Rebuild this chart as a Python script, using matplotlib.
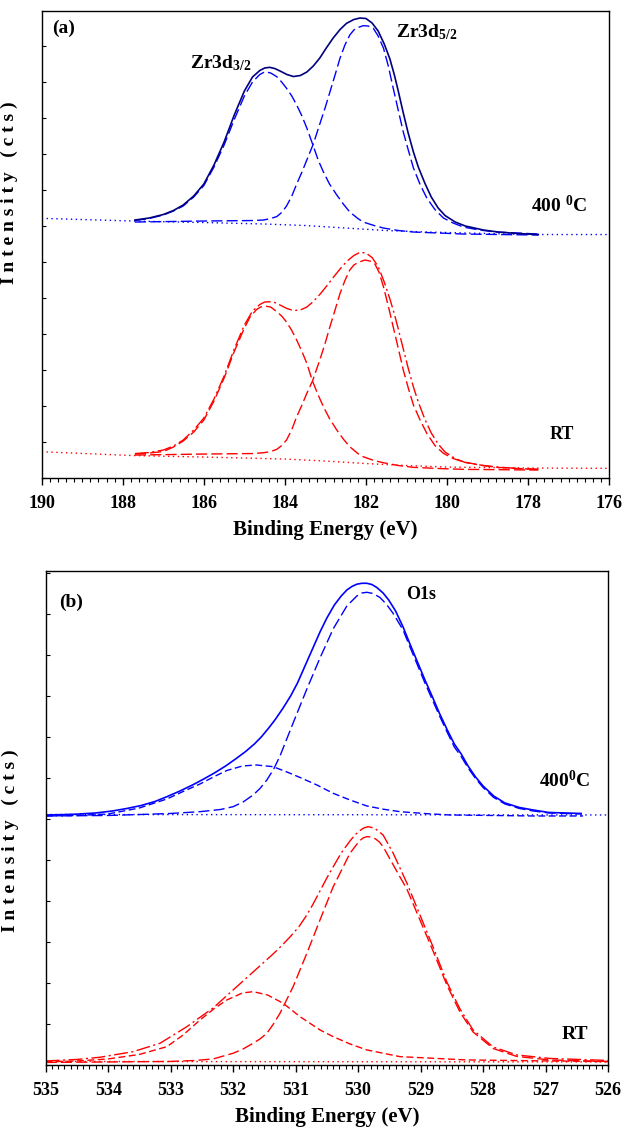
import matplotlib
matplotlib.use("Agg")
import matplotlib.pyplot as plt
from matplotlib.ticker import MultipleLocator

plt.rcParams['font.family'] = ['Liberation Serif', 'DejaVu Serif']
plt.rcParams['font.weight'] = 'bold'
plt.rcParams['mathtext.fontset'] = 'custom'
plt.rcParams['mathtext.rm'] = 'Liberation Serif:bold'
plt.rcParams['mathtext.it'] = 'Liberation Serif:bold'
plt.rcParams['mathtext.bf'] = 'Liberation Serif:bold'

# ---------------- (a) Zr3d, 400 C ----------------
a400_env_E = [187.70, 187.35, 187.00, 186.75, 186.51, 186.25, 186.00, 185.75, 185.50, 185.25,
              185.00, 184.80, 184.62, 184.50, 184.38, 184.25, 184.12, 183.95, 183.79, 183.62,
              183.46, 183.30, 183.14, 182.98, 182.81, 182.64, 182.48, 182.30, 182.15, 182.00,
              181.85, 181.70, 181.55, 181.41, 181.30, 181.21, 181.08, 180.96, 180.83, 180.71,
              180.55, 180.39, 180.22, 180.05, 179.80, 179.55, 179.10, 178.74, 178.25, 177.75]
a400_env_I = [258, 260, 263.5, 267.5, 273, 282, 294, 313, 336, 363,
              387, 401, 407.5, 410, 410.7, 409.5, 407, 403.5, 401.5, 402.5,
              406, 412, 420, 430, 440, 448.5, 454.7, 458.5, 460, 459.5,
              455, 447, 434, 419, 403, 388, 365, 345, 326, 311,
              295, 281, 270, 262.5, 256, 252, 248, 246, 244.5, 243.5]

a400_p1_E = [187.70, 187.35, 187.00, 186.75, 186.51, 186.25, 186.00, 185.75, 185.50, 185.25,
             185.00, 184.80, 184.62, 184.49, 184.35, 184.20, 184.08, 183.96, 183.83, 183.71,
             183.58, 183.46, 183.30, 183.18, 183.05, 182.90, 182.72, 182.55, 182.40, 182.20,
             182.07, 181.80, 181.57, 181.20, 180.83, 180.20, 179.60, 177.75]
a400_p1_I = [257.5, 259.5, 263, 267, 272, 281, 292.5, 311, 333, 358.5,
             382, 396, 403.5, 406.3, 405, 401.3, 396, 389.7, 382, 373,
             362, 350, 332, 318, 306, 294, 283, 273.5, 266, 259.5,
             256, 252.5, 250, 247.5, 246, 245, 244, 243]

a400_p2_E = [187.70, 186.00, 184.80, 184.53, 184.35, 184.20, 184.08, 183.96, 183.83, 183.71,
             183.58, 183.46, 183.30, 183.14, 183.01, 182.89, 182.76, 182.64, 182.52, 182.40,
             182.30, 182.20, 182.07, 181.95, 181.82, 181.70, 181.57, 181.45, 181.33, 181.20,
             181.08, 180.95, 180.83, 180.66, 180.50, 180.30, 180.09, 179.85, 179.60, 179.20,
             178.78, 178.25, 177.75]
a400_p2_I = [256, 257, 257.5, 258, 259.5, 261.5, 265.5, 272, 282, 294,
             306, 318, 334, 354, 370, 386, 403.5, 420, 433, 443,
             448, 450.5, 452.3, 452, 449.7, 442, 430, 412, 390, 367,
             346, 327, 310, 293, 280, 268.5, 260, 255, 251, 248,
             246, 245, 244]

a400_bg_E = [190, 187.75, 186, 184.5, 183.5, 182.5, 181.5, 180.5, 179, 177.75, 176]
a400_bg_I = [259.7, 257, 255.5, 254, 252.5, 250, 247.5, 246, 244.5, 243.5, 243.5]

# ---------------- (a) Zr3d, RT ----------------
aRT_env_E = [187.70, 187.35, 187.00, 186.75, 186.51, 186.25, 186.00, 185.75, 185.50, 185.25,
             185.00, 184.80, 184.62, 184.50, 184.38, 184.25, 184.12, 183.95, 183.79, 183.62,
             183.46, 183.30, 183.14, 182.98, 182.81, 182.64, 182.48, 182.30, 182.15, 182.00,
             181.85, 181.70, 181.55, 181.41, 181.30, 181.21, 181.08, 180.96, 180.83, 180.71,
             180.55, 180.39, 180.22, 180.05, 179.80, 179.55, 179.10, 178.74, 178.25, 177.75]
aRT_env_I = [24.5, 25.5, 28, 32, 38, 48, 60, 79, 102, 129,
             153, 167, 173.5, 176, 176.3, 175.5, 173, 169.5, 167.5, 168,
             171, 176.5, 183.5, 191.5, 200.5, 209, 216.5, 222.5, 225.7, 225,
             220.5, 211.5, 196, 179, 164, 150, 129, 110, 91, 76,
             59, 45, 34, 26, 19.5, 15.5, 12.5, 11, 9.5, 8.7]

aRT_p1_E = [187.70, 187.35, 187.00, 186.75, 186.51, 186.25, 186.00, 185.75, 185.50, 185.25,
            185.00, 184.86, 184.70, 184.60, 184.49, 184.35, 184.20, 184.08, 183.96, 183.83,
            183.71, 183.58, 183.46, 183.32, 183.18, 183.05, 182.90, 182.72, 182.55, 182.40,
            182.20, 182.07, 181.80, 181.57, 181.20, 180.83, 180.20, 179.60, 177.75]
aRT_p1_I = [24, 25, 26.5, 31, 37, 46, 58, 77, 100, 126.5,
            150, 161, 168.5, 171, 172, 171, 166.3, 162, 156, 147.5,
            138, 126.5, 114.7, 97, 83, 71.3, 59.5, 48, 38.5, 31.3,
            24.5, 21.3, 17.5, 15.3, 12.5, 10.7, 9.5, 8.7, 8]

aRT_p2_E = [187.70, 186.00, 184.80, 184.53, 184.35, 184.20, 184.08, 183.96, 183.83, 183.71,
            183.58, 183.46, 183.32, 183.14, 183.01, 182.89, 182.76, 182.64, 182.52, 182.40,
            182.30, 182.20, 182.03, 181.90, 181.78, 181.68, 181.57, 181.45, 181.33, 181.20,
            181.08, 180.95, 180.83, 180.66, 180.50, 180.30, 180.09, 179.85, 179.60, 179.20,
            178.78, 178.25, 177.75]
aRT_p2_I = [23, 24, 24.5, 25.3, 26.5, 28.7, 32.5, 38, 48.5, 61.3,
            73, 84.7, 97, 118, 134.5, 151.3, 168.5, 184.7, 197.5, 208,
            213, 215.5, 218, 217, 214, 206, 191.3, 172, 151.3, 129,
            108, 89, 73, 57.5, 44.7, 32.5, 24.7, 19.5, 16.3, 13,
            10.7, 9.5, 8.7]

aRT_bg_E = [190, 187.75, 186, 184, 183, 182, 181, 180, 178, 176]
aRT_bg_I = [26.3, 22.5, 21, 19, 17, 14.5, 12.5, 11, 10, 9.7]

# ---------------- (b) O1s, 400 C ----------------
b400_env_E = [535.00, 534.75, 534.51, 534.20, 533.93, 533.70, 533.47, 533.25, 533.06, 532.85,
              532.65, 532.47, 532.30, 532.12, 531.95, 531.80, 531.66, 531.55, 531.43, 531.32,
              531.20, 531.08, 530.97, 530.85, 530.73, 530.61, 530.50, 530.38, 530.27, 530.18,
              530.10, 530.02, 529.94, 529.86, 529.78, 529.70, 529.60, 529.51, 529.40, 529.28,
              529.17, 529.05, 528.93, 528.81, 528.70, 528.58, 528.46, 528.35, 528.24, 528.12,
              528.00, 527.83, 527.65, 527.42, 527.20, 526.95, 526.43]
b400_env_I = [250, 250.3, 250.8, 252, 254, 256.5, 259.5, 263.5, 268.3, 274,
              280, 286, 292, 299, 306.5, 313.5, 321, 328, 337, 346,
              357, 369, 382, 399, 416, 433, 447, 460, 469, 475,
              478.5, 480.8, 481.7, 481.7, 480.5, 477.5, 472, 465, 454, 438,
              421, 403, 385, 368, 352, 336, 321, 311, 299, 288,
              279, 269, 262, 257.5, 255, 252.5, 251.5]

b400_main_E = [535.00, 534.00, 533.47, 533.00, 532.53, 532.20, 532.00, 531.84, 531.68, 531.57,
               531.46, 531.35, 531.25, 531.04, 530.82, 530.61, 530.40, 530.18, 530.02, 529.94,
               529.86, 529.76, 529.65, 529.55, 529.44, 529.28, 529.17, 529.05, 528.93, 528.81,
               528.70, 528.58, 528.46, 528.35, 528.24, 528.12, 528.00, 527.83, 527.65, 527.42,
               527.20, 526.95, 526.43]
b400_main_I = [249, 249.5, 250.5, 251.5, 253.3, 255.5, 258.3, 263, 270, 276.5,
               285, 296, 309, 342, 376, 407, 436, 459, 469, 472,
               472.7, 471.5, 467.5, 461, 451.7, 435, 418, 400, 382, 365,
               349.5, 333.5, 318, 308.5, 297, 286.5, 277.5, 267.5, 261, 256.5,
               254, 252, 251]

b400_small_E = [535.00, 534.50, 534.00, 533.50, 533.06, 532.80, 532.53, 532.30, 532.10, 531.85,
                531.63, 531.36, 531.10, 530.93, 530.66, 530.40, 530.13, 529.86, 529.60, 529.33,
                528.90, 528.53, 527.20, 526.40]
b400_small_I = [249, 249.5, 251, 257, 266, 273.5, 281, 288.5, 294.5, 299,
                300, 298.3, 292, 287.5, 280, 271.7, 265, 259, 255.8, 253.3,
                251.3, 250, 249, 249]

b400_bg_E = [535, 526]
b400_bg_I = [250.5, 250]

# ---------------- (b) O1s, RT ----------------
bRT_env_E = [535.00, 534.50, 534.13, 533.60, 533.17, 532.74, 532.32, 532.00, 531.68, 531.36,
             531.22, 531.09, 530.95, 530.82, 530.72, 530.61, 530.50, 530.40, 530.27, 530.13,
             530.05, 529.98, 529.91, 529.84, 529.78, 529.72, 529.60, 529.44, 529.22, 529.01,
             528.80, 528.58, 528.37, 528.16, 527.84, 527.46, 526.93, 526.00]
bRT_env_I = [4, 5.5, 7.7, 13.3, 21.7, 38.3, 57, 75, 93, 111,
             119.5, 128, 138, 150, 161, 174, 187, 198, 212, 224,
             230, 234, 237, 238.3, 237.5, 236, 230, 212, 182, 150,
             118, 83, 56, 35, 18, 10, 6.5, 4.5]

bRT_main_E = [535.00, 534.00, 533.00, 532.60, 532.32, 532.00, 531.84, 531.68, 531.57, 531.46,
              531.36, 531.25, 531.04, 530.82, 530.61, 530.40, 530.13, 529.98, 529.92, 529.86,
              529.79, 529.72, 529.66, 529.60, 529.33, 529.22, 529.01, 528.80, 528.58, 528.37,
              528.16, 527.84, 527.46, 526.93, 526.00]
bRT_main_I = [2.5, 3, 3.5, 4.5, 6, 11.7, 16, 21.7, 26, 31.7,
              40.5, 51.7, 78.3, 111.7, 145, 178, 211.7, 224, 227, 228.3,
              228, 226, 223, 218.3, 188, 176, 145, 114, 80, 53,
              33, 16.5, 8.5, 5, 3.5]

bRT_small_E = [535.00, 534.50, 534.00, 533.50, 533.06, 532.80, 532.53, 532.30, 532.10, 531.85,
               531.68, 531.45, 531.20, 530.93, 530.61, 530.40, 530.13, 529.86, 529.33, 528.26,
               526.00]
bRT_small_I = [3, 4, 6, 10.5, 18.3, 30, 45, 56.5, 65, 72,
               73.3, 70, 61.7, 48.3, 35, 28.3, 21, 15, 8.3, 5,
               3.3]

bRT_bg_E = [535, 526]
bRT_bg_I = [3.5, 3]

blue = '#0000ff'
navy = '#000080'
red = '#ff0000'
long_dash = (0, (8, 3))
short_dash = (0, (5, 2.5))
dash_dot = (0, (10, 2.5, 1.5, 2.5))
dots = (0, (1, 2.5))

fig = plt.figure(figsize=(6.22, 11.28), dpi=100)
ax1 = fig.add_axes([0.0670, 0.5762, 0.9125, 0.4143])
ax2 = fig.add_axes([0.0735, 0.0559, 0.9040, 0.4379])

# panel (a)
ax1.plot(a400_bg_E, a400_bg_I, color=blue, ls=dots, lw=1)
ax1.plot(a400_p1_E, a400_p1_I, color=blue, ls=long_dash, lw=1)
ax1.plot(a400_p2_E, a400_p2_I, color=blue, ls=long_dash, lw=1)
ax1.plot(a400_env_E, a400_env_I, color=navy, lw=1.2)
ax1.plot(aRT_bg_E, aRT_bg_I, color=red, ls=dots, lw=1)
ax1.plot(aRT_p1_E, aRT_p1_I, color=red, ls=long_dash, lw=1)
ax1.plot(aRT_p2_E, aRT_p2_I, color=red, ls=long_dash, lw=1)
ax1.plot(aRT_env_E, aRT_env_I, color=red, ls=dash_dot, lw=1)

# panel (b)
ax2.plot(b400_bg_E, b400_bg_I, color=blue, ls=dots, lw=1)
ax2.plot(b400_small_E, b400_small_I, color=blue, ls=short_dash, lw=1)
ax2.plot(b400_main_E, b400_main_I, color=blue, ls=long_dash, lw=1)
ax2.plot(b400_env_E, b400_env_I, color=blue, lw=1.2)
ax2.plot(bRT_bg_E, bRT_bg_I, color=red, ls=dots, lw=1)
ax2.plot(bRT_small_E, bRT_small_I, color=red, ls=short_dash, lw=1)
ax2.plot(bRT_main_E, bRT_main_I, color=red, ls=long_dash, lw=1)
ax2.plot(bRT_env_E, bRT_env_I, color=red, ls=dash_dot, lw=1)

ax1.set_xlim(190, 176)
ax1.set_ylim(0, 467.3)
ax2.set_xlim(535, 526)
ax2.set_ylim(0, 494)

for ax, major, minor, ystep in [(ax1, 2, 0.2, 36), (ax2, 1, 0.1, 41)]:
    ax.xaxis.set_major_locator(MultipleLocator(major))
    ax.xaxis.set_minor_locator(MultipleLocator(minor))
    ax.yaxis.set_major_locator(MultipleLocator(ystep))
    ax.tick_params(axis='x', which='major', direction='out', length=5, width=1,
                   labelsize=13, pad=7)
    ax.tick_params(axis='x', which='minor', direction='out', length=3, width=0.8)
    ax.tick_params(axis='y', which='major', direction='in', length=3, width=0.8,
                   labelleft=False)
    for s in ax.spines.values():
        s.set_linewidth(1.0)
    ax.set_xlabel('Binding Energy (eV)', fontsize=15, fontweight='bold', labelpad=6)
    ax.set_ylabel('I n t e n s i t y   ( c t s )', fontsize=14, fontweight='bold')

ax1.yaxis.set_label_coords(-0.041, 0.61)
ax2.yaxis.set_label_coords(-0.0475, 0.455)

# labels panel (a)
ax1.text(0.018, 0.963, '(a)', transform=ax1.transAxes, fontsize=14, va='center')
ax1.text(0.261, 0.877, r'Zr3d$_{3/2}$', transform=ax1.transAxes, fontsize=14, va='baseline')
ax1.text(0.625, 0.944, r'Zr3d$_{5/2}$', transform=ax1.transAxes, fontsize=14, va='baseline')
ax1.text(0.8615, 0.569, r'400 $^{0}$C', transform=ax1.transAxes, fontsize=14, va='baseline')
ax1.text(0.8955, 0.0835, 'RT', transform=ax1.transAxes, fontsize=13, va='baseline')

# labels panel (b)
ax2.text(0.024, 0.937, '(b)', transform=ax2.transAxes, fontsize=14, va='center')
ax2.text(0.641, 0.943, 'O1s', transform=ax2.transAxes, fontsize=13, va='baseline')
ax2.text(0.878, 0.563, r'400$^{0}$C', transform=ax2.transAxes, fontsize=14, va='baseline')
ax2.text(0.9177, 0.0526, 'RT', transform=ax2.transAxes, fontsize=14, va='baseline')

fig.savefig('out.png', dpi=100)
